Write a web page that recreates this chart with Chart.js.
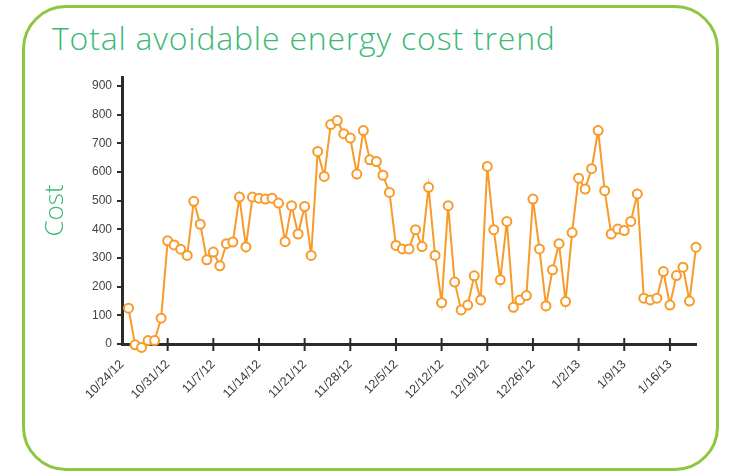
<!DOCTYPE html>
<html>
<head>
<meta charset="utf-8">
<script src="https://cdn.jsdelivr.net/npm/chart.js@4"></script>
<style>
  html, body { margin: 0; padding: 0; background: #fff; }
  #wrap { position: relative; width: 733px; height: 473px; overflow: hidden; }
  #frame {
    position: absolute; left: 22px; top: 5px; width: 697px; height: 466px;
    box-sizing: border-box; border: 3px solid #8dc63f; border-radius: 44px;
  }
  #title {
    position: absolute; left: 52px; top: 16px;
    font-family: "Open Sans", sans-serif; font-weight: 300; font-size: 32px;
    letter-spacing: 0.8px; color: #3db874; white-space: nowrap;
  }
  canvas { position: absolute; left: 0; top: 0; }
</style>
</head>
<body>
<div id="wrap">
  <div id="frame"></div>
  <div id="title">Total avoidable energy cost trend</div>
  <canvas id="chart" width="733" height="473"></canvas>
</div>
<script>
// weekly tick labels shown under the x axis
const tickLabels = ['10/24/12', '10/31/12', '11/7/12', '11/14/12', '11/21/12', '11/28/12', '12/5/12',
                    '12/12/12', '12/19/12', '12/26/12', '1/2/13', '1/9/13', '1/16/13'];

// daily avoidable cost, starting the day after 10/24/12
const cost = [125, -3, -12, 12, 12, 90, 360, 346, 331, 309,
              498, 418, 294, 321, 273, 350, 356, 513, 339, 513,
              509, 506, 509, 492, 357, 483, 384, 480, 309, 672,
              585, 766, 780, 734, 719, 593, 745, 643, 637, 589,
              529, 344, 332, 332, 399, 340, 547, 309, 144, 483,
              216, 119, 136, 238, 154, 620, 399, 224, 428, 128,
              154, 169, 506, 332, 133, 259, 350, 148, 389, 579,
              541, 612, 745, 535, 384, 401, 396, 428, 524, 160,
              154, 160, 253, 136, 239, 268, 150, 338];

// one category per day, 10/24 has no value
const days = ['10/24/12'];
const start = new Date(2012, 9, 24);
for (let i = 1; i <= cost.length; i++) {
  const d = new Date(start.getFullYear(), start.getMonth(), start.getDate() + i);
  days.push(`${d.getMonth() + 1}/${d.getDate()}/${String(d.getFullYear()).slice(2)}`);
}
const values = [null, ...cost];

const AXIS = '#2b2b2b';
const GREEN = '#3db874';

// tick marks that cross the x axis line
const crossTicks = {
  id: 'crossTicks',
  beforeDatasetsDraw(chart) {
    const x = chart.scales.x, ctx = chart.ctx;
    const y0 = chart.chartArea.bottom;
    ctx.save();
    ctx.strokeStyle = AXIS;
    ctx.lineWidth = 2;
    x.ticks.forEach((t, i) => {
      if (i === 0) return;
      const px = x.getPixelForTick(i);
      ctx.beginPath();
      ctx.moveTo(px, y0 - 6);
      ctx.lineTo(px, y0 + 7);
      ctx.stroke();
    });
    ctx.restore();
  }
};

new Chart(document.getElementById('chart'), {
  type: 'line',
  data: {
    labels: days,
    datasets: [{
      data: values,
      borderColor: '#f89b2a', borderWidth: 2,
      pointRadius: 4.5, pointBorderWidth: 2,
      pointBackgroundColor: '#fff', pointBorderColor: '#f89b2a',
      tension: 0, clip: false
    }]
  },
  options: {
    responsive: false,
    animation: false,
    layout: { padding: { left: 40, top: 77, right: 37, bottom: 0 } },
    plugins: { legend: { display: false }, tooltip: { enabled: false } },
    scales: {
      x: {
        type: 'category',
        afterBuildTicks: s => { s.ticks = s.ticks.filter(t => t.value % 7 === 0); },
        afterFit: s => { s.height = 129; },
        grid: { display: false },
        border: { color: AXIS, width: 3 },
        ticks: {
          autoSkip: false, minRotation: 45, maxRotation: 45, padding: 5,
          color: '#3a3a3a', font: { family: "'Liberation Sans Narrow', 'Liberation Sans'", size: 12.5 },
          callback: (v) => tickLabels[v / 7]
        }
      },
      y: {
        min: 0, max: 932,
        afterFit: s => { s.width = 82; },
        grid: { drawOnChartArea: false, tickLength: 5, color: AXIS, lineWidth: 2 },
        border: { color: AXIS, width: 3 },
        ticks: {
          stepSize: 100, includeBounds: false, padding: 5,
          color: '#444', font: { family: "'Liberation Sans'", size: 12 }
        },
        title: {
          display: true, text: 'Cost', color: GREEN, padding: { top: 0, bottom: 2 },
          font: { family: 'Open Sans', size: 26, weight: 300 }
        }
      }
    }
  },
  plugins: [crossTicks]
});
</script>
</body>
</html>
